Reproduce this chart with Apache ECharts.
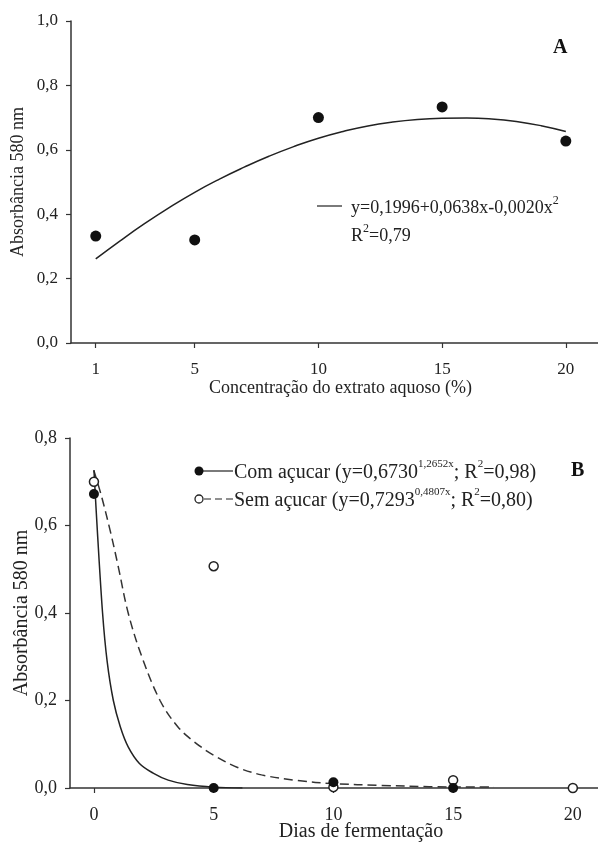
<!DOCTYPE html>
<html>
<head>
<meta charset="utf-8">
<script src="https://cdn.jsdelivr.net/npm/echarts@6/dist/echarts.min.js"></script>
<style>
  html, body { margin: 0; padding: 0; background: #fff; }
  #main { width: 598px; height: 844px; }
</style>
</head>
<body>
<div id="main"></div>
<script>
// painel A - concentração do extrato
var concX = [1, 5, 10, 15, 20];
var absA = [0.332, 0.32, 0.70, 0.733, 0.627];
var fitAX = [1, 2, 3, 4, 5, 6, 7, 8, 9, 10, 11, 12, 13, 14, 15, 16, 17, 18, 19, 20];
var fitAY = [0.261, 0.318, 0.372, 0.422, 0.468, 0.509, 0.546, 0.580, 0.610, 0.636, 0.657, 0.674, 0.686, 0.694, 0.698, 0.699, 0.696, 0.688, 0.675, 0.657];
var ticksA = [1, 5, 10, 15, 20];

// painel B - dias de fermentação
var diasCom = [0, 5, 10, 15];
var absCom = [0.672, 0.0, 0.013, 0.0];
var diasSem = [0, 5, 10, 15, 20];
var absSem = [0.70, 0.507, 0.002, 0.018, 0.0];
var fitComX = [0, 0.14, 0.36, 0.55, 0.81, 1.1, 1.43, 1.9, 2.47, 3.1, 3.9, 5, 6.2];
var fitComY = [0.727, 0.59, 0.40, 0.29, 0.20, 0.14, 0.094, 0.056, 0.034, 0.018, 0.008, 0.002, 0.0];
var fitSemX = [0, 0.3, 0.67, 1, 1.43, 2, 2.76, 3.5, 4.2, 5, 6, 7, 8.5, 10, 12, 14, 16.7];
var fitSemY = [0.725, 0.67, 0.59, 0.51, 0.40, 0.30, 0.20, 0.14, 0.105, 0.075, 0.047, 0.03, 0.017, 0.01, 0.006, 0.003, 0.002];
var ticksB = [0, 5, 10, 15, 20];

function pares(xs, ys) {
    return xs.map(function (x, i) { return [x, ys[i]]; });
}

var fonte = '"Liberation Serif", "DejaVu Serif", serif';
var corTexto = '#222';
var corEixo = '#333';

function virgula(v) {
    return v.toFixed(1).replace('.', ',');
}

// texto com expoentes (tokens {s|...})
function richSup(tam, tamSup) {
    return {
        t: { fontSize: tam, fontFamily: fonte, fill: corTexto, lineHeight: tam + 4, verticalAlign: 'bottom' },
        s: { fontSize: tamSup, fontFamily: fonte, fill: corTexto, lineHeight: tam + 4, verticalAlign: 'top' }
    };
}

var myChart = echarts.init(document.getElementById('main'));

var eixoBase = {
    nameMoveOverlap: false,
    axisLine: { show: true, onZero: false, lineStyle: { color: corEixo, width: 1.5 } },
    axisTick: { show: true, inside: false, length: 5, lineStyle: { color: corEixo, width: 1.2 } },
    splitLine: { show: false }
};

option = {
    backgroundColor: '#fff',
    animation: false,
    textStyle: { fontFamily: fonte, color: corTexto },
    grid: [
        { left: 71, top: 21, width: 527, height: 322 },
        { left: 70, top: 438, width: 528, height: 350 }
    ],
    xAxis: [
        Object.assign({}, eixoBase, {
            gridIndex: 0, type: 'value', min: 0, max: 21.3,
            axisTick: Object.assign({}, eixoBase.axisTick, { customValues: ticksA }),
            axisLabel: { customValues: ticksA, margin: 18, fontSize: 17, color: corTexto, fontFamily: fonte },
            name: 'Concentração do extrato aquoso (%)',
            nameLocation: 'middle', nameGap: 36,
            nameTextStyle: { fontSize: 18, color: corTexto, fontFamily: fonte, padding: [0, 0, 0, 12] }
        }),
        Object.assign({}, eixoBase, {
            gridIndex: 1, type: 'value', min: -1, max: 21.05,
            axisTick: Object.assign({}, eixoBase.axisTick, { customValues: ticksB }),
            axisLabel: { customValues: ticksB, margin: 18, fontSize: 18, color: corTexto, fontFamily: fonte },
            name: 'Dias de fermentação',
            nameLocation: 'middle', nameGap: 34,
            nameTextStyle: { fontSize: 20, color: corTexto, fontFamily: fonte, padding: [0, 0, 0, 54] }
        })
    ],
    yAxis: [
        Object.assign({}, eixoBase, {
            gridIndex: 0, type: 'value', min: 0, max: 1, interval: 0.2,
            axisLabel: { margin: 13, fontSize: 17, color: corTexto, fontFamily: fonte, formatter: virgula },
            name: 'Absorbância 580 nm',
            nameLocation: 'middle', nameGap: 44,
            nameTextStyle: { fontSize: 18, color: corTexto, fontFamily: fonte }
        }),
        Object.assign({}, eixoBase, {
            gridIndex: 1, type: 'value', min: 0, max: 0.8, interval: 0.2,
            axisLabel: { margin: 13, fontSize: 18, color: corTexto, fontFamily: fonte, formatter: virgula },
            name: 'Absorbância 580 nm',
            nameLocation: 'middle', nameGap: 38,
            nameTextStyle: { fontSize: 20, color: corTexto, fontFamily: fonte }
        })
    ],
    series: [
        {
            name: 'Ajuste A', type: 'line', xAxisIndex: 0, yAxisIndex: 0,
            data: pares(fitAX, fitAY), smooth: true, showSymbol: false,
            lineStyle: { color: '#222', width: 1.5 }, z: 2
        },
        {
            name: 'Extrato', type: 'scatter', xAxisIndex: 0, yAxisIndex: 0,
            data: pares(concX, absA), symbol: 'circle', symbolSize: 11,
            itemStyle: { color: '#111', opacity: 1 }, z: 3
        },
        {
            name: 'Ajuste sem', type: 'line', xAxisIndex: 1, yAxisIndex: 1,
            data: pares(fitSemX, fitSemY), smooth: 0.35, showSymbol: false,
            lineStyle: { color: '#333', width: 1.5, type: [9, 5] }, z: 2
        },
        {
            name: 'Ajuste com', type: 'line', xAxisIndex: 1, yAxisIndex: 1,
            data: pares(fitComX, fitComY), smooth: 0.35, showSymbol: false,
            lineStyle: { color: '#222', width: 1.5 }, z: 2
        },
        {
            name: 'Sem açucar', type: 'scatter', xAxisIndex: 1, yAxisIndex: 1,
            data: pares(diasSem, absSem), symbol: 'circle', symbolSize: 9,
            itemStyle: { color: '#fff', borderColor: '#222', borderWidth: 1.5, opacity: 1 }, z: 3
        },
        {
            name: 'Com açucar', type: 'scatter', xAxisIndex: 1, yAxisIndex: 1,
            data: pares(diasCom, absCom), symbol: 'circle', symbolSize: 10,
            itemStyle: { color: '#111', opacity: 1 }, z: 4
        }
    ],
    graphic: [
        // painel A: letra e equação
        { type: 'text', left: 553, top: 38, style: { text: 'A', font: 'bold 20px ' + fonte, fill: '#111' } },
        { type: 'line', shape: { x1: 317, y1: 206, x2: 342, y2: 206 }, style: { stroke: '#222', lineWidth: 1.2 } },
        {
            type: 'text', left: 351, top: 195,
            style: { text: '{t|y=0,1996+0,0638x-0,0020x}{s|2}', rich: richSup(18, 12) }
        },
        {
            type: 'text', left: 351, top: 223,
            style: { text: '{t|R}{s|2}{t|=0,79}', rich: richSup(18, 12) }
        },
        // painel B: letra e legenda
        { type: 'text', left: 571, top: 461, style: { text: 'B', font: 'bold 20px ' + fonte, fill: '#111' } },
        { type: 'line', shape: { x1: 202, y1: 471, x2: 233, y2: 471 }, style: { stroke: '#222', lineWidth: 1.2 } },
        { type: 'circle', shape: { cx: 199, cy: 471, r: 4.5 }, style: { fill: '#111' } },
        { type: 'line', shape: { x1: 204, y1: 499, x2: 233, y2: 499 }, style: { stroke: '#222', lineWidth: 1.2, lineDash: [7, 4] } },
        { type: 'circle', shape: { cx: 199, cy: 499, r: 4 }, style: { fill: '#fff', stroke: '#222', lineWidth: 1.3 } },
        {
            type: 'text', left: 234, top: 459,
            style: { text: '{t|Com açucar (y=0,6730}{s|1,2652x}{t|; R}{s|2}{t|=0,98)}', rich: richSup(20, 11) }
        },
        {
            type: 'text', left: 234, top: 487,
            style: { text: '{t|Sem açucar (y=0,7293}{s|0,4807x}{t|; R}{s|2}{t|=0,80)}', rich: richSup(20, 11) }
        }
    ]
};

myChart.setOption(option);
</script>
</body>
</html>
